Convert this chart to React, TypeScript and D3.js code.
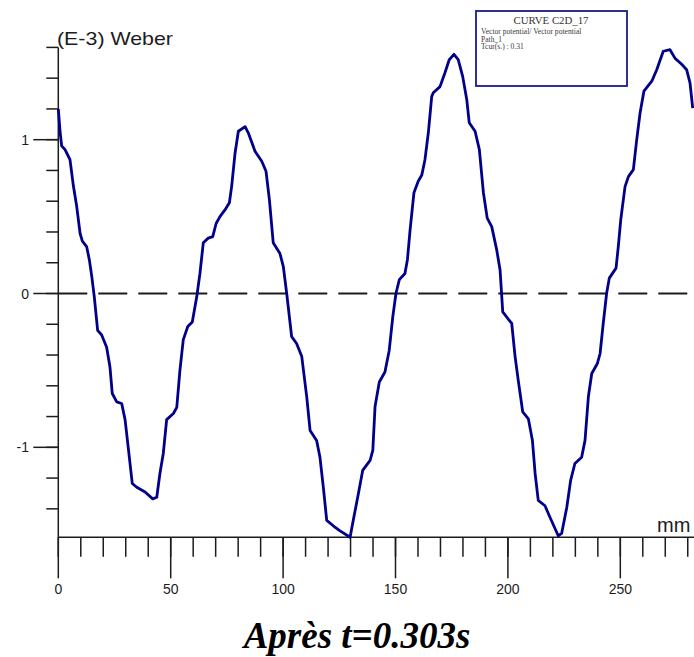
import React from 'react';
import * as d3 from 'd3';

// position along the path (mm) and flux (E-3 Weber)
const positionMm = [
  0, 0.8, 1.5, 3.0, 5.2, 6.7, 8.2, 9.7, 10.7, 12.6, 13.8, 14.9, 16.0, 17.5, 19.3, 21.5, 23.0, 24.0, 26.0,
  28.2, 29.7, 31.1, 32.9, 34.9, 38.6, 42.0, 43.8, 45.2, 46.7, 48.2, 51.2, 52.7, 54.1, 55.6, 57.6, 59.6,
  61.6, 63.0, 64.5, 66.7, 68.7, 70.2, 71.9, 74.2, 76.1, 77.1, 78.6, 80.1, 83.1, 84.5, 87.5, 90.5, 92.4,
  93.9, 95.6, 98.6, 100.1, 101.6, 103.8, 106.0, 108.3, 110.5, 112.0, 114.9, 116.4, 117.9, 119.4, 122.3,
  125.0, 129.8, 131.2, 133.5, 135.4, 138.7, 139.9, 140.9, 142.8, 145.3, 147.2, 148.8, 150.2, 151.7,
  154.2, 155.3, 156.5, 158.2, 160.1, 161.7, 163.1, 164.6, 166.1, 166.8, 169.8, 172.0, 173.9, 176.0,
  177.9, 179.9, 181.7, 182.8, 185.4, 187.3, 189.1, 190.8, 192.8, 195.0, 196.5, 197.7, 200.6, 201.7,
  203.2, 204.6, 206.6, 209.1, 210.9, 212.1, 213.5, 216.5, 218.7, 222.4, 223.9, 226.2, 227.9, 229.8,
  232.8, 234.3, 235.8, 237.3, 239.8, 241.0, 242.4, 243.9, 245.1, 248.1, 249.1, 250.2, 252.1, 253.6,
  255.8, 257.3, 258.8, 260.5, 264.0, 266.2, 269.1, 272.1, 274.3, 277.3, 279.5, 281.0, 282.2,
];
const fluxE3 = [
  1.20, 1.05, 0.96, 0.935, 0.87, 0.70, 0.565, 0.39, 0.34, 0.305, 0.22, 0.11, -0.02, -0.24, -0.27, -0.35,
  -0.48, -0.65, -0.705, -0.715, -0.82, -1.0, -1.235, -1.26, -1.29, -1.335, -1.325, -1.17, -1.04, -0.82,
  -0.78, -0.74, -0.50, -0.30, -0.215, -0.185, -0.02, 0.13, 0.33, 0.36, 0.37, 0.455, 0.50, 0.545, 0.59,
  0.695, 0.91, 1.055, 1.085, 1.045, 0.925, 0.86, 0.795, 0.61, 0.33, 0.26, 0.175, 0.0, -0.28, -0.325,
  -0.41, -0.67, -0.89, -0.955, -1.065, -1.26, -1.475, -1.51, -1.54, -1.585, -1.475, -1.30, -1.15,
  -1.085, -1.02, -0.735, -0.575, -0.51, -0.37, -0.15, 0.0, 0.09, 0.13, 0.22, 0.415, 0.655, 0.73, 0.77,
  0.87, 1.045, 1.28, 1.305, 1.345, 1.435, 1.52, 1.555, 1.52, 1.41, 1.26, 1.11, 1.055, 0.935, 0.655,
  0.49, 0.435, 0.285, 0.155, -0.12, -0.175, -0.195, -0.41, -0.565, -0.77, -0.815, -0.955, -1.17, -1.345,
  -1.38, -1.455, -1.575, -1.56, -1.39, -1.215, -1.105, -1.065, -0.955, -0.67, -0.52, -0.455, -0.39,
  -0.195, 0.0, 0.10, 0.165, 0.305, 0.48, 0.695, 0.76, 0.805, 1.0, 1.175, 1.315, 1.38, 1.455, 1.575,
  1.585, 1.53, 1.49, 1.455, 1.37, 1.205,
];

const xMajorTicks = [0, 50, 100, 150, 200, 250];
const xMinorTicks = d3.range(0, 290, 10);
const yMajorTicks = [-1, 0, 1];
const yMinorTicks = d3.range(-1.4, 1.61, 0.2);

const legendLines = ['Vector potential/ Vector potential', 'Path_1', 'Tcur(s.) : 0.31'];

const W = 694;
const H = 657;
const ink = '#1c1c1c';
const curveColor = '#00008b';
const sans = "Arial, 'Liberation Sans', sans-serif";
const serif = "'Liberation Serif', 'Times New Roman', serif";

export default function App() {
  const x = d3.scaleLinear().domain([0, 283]).range([58.3, 694.5]);
  const y = d3.scaleLinear().domain([-1.585, 1.6]).range([537.3, 47.4]);

  const pts: [number, number][] = positionMm.map((m, i) => [m, fluxE3[i]]);
  const line = d3
    .line<[number, number]>()
    .x((d) => x(d[0]))
    .y((d) => y(d[1]))
    .curve(d3.curveLinear);

  const x0 = x(0);
  const yBase = y(-1.585);

  return (
    <svg
      width={W}
      height={H}
      style={{ position: 'absolute', left: 0, top: 0, background: '#fff' }}
      xmlns="http://www.w3.org/2000/svg"
    >
      <rect x={0} y={0} width={W} height={H} fill="#fff" />

      {/* zero line */}
      <line
        x1={x0}
        x2={W}
        y1={y(0)}
        y2={y(0)}
        stroke={ink}
        strokeWidth={1.8}
        strokeDasharray="29,11"
      />

      {/* y axis */}
      <line x1={x0} x2={x0} y1={y(1.6)} y2={yBase} stroke={ink} strokeWidth={1.5} />
      {yMinorTicks.map((t) => (
        <line key={'ym' + t} x1={x0 - 12} x2={x0} y1={y(t)} y2={y(t)} stroke={ink} strokeWidth={1.5} />
      ))}
      {yMajorTicks.map((t) => (
        <g key={'yM' + t}>
          <line x1={x0 - 25} x2={x0} y1={y(t)} y2={y(t)} stroke={ink} strokeWidth={1.5} />
          <text x={29} y={y(t)} dy="0.36em" textAnchor="end" fontFamily={sans} fontSize={14} fill={ink}>
            {t}
          </text>
        </g>
      ))}

      {/* x axis */}
      <line x1={x0} x2={W} y1={yBase} y2={yBase} stroke={ink} strokeWidth={1.5} />
      {xMinorTicks.map((t) => (
        <line key={'xm' + t} x1={x(t)} x2={x(t)} y1={yBase} y2={yBase + 19.5} stroke={ink} strokeWidth={1.5} />
      ))}
      {xMajorTicks.map((t) => (
        <g key={'xM' + t}>
          <line x1={x(t)} x2={x(t)} y1={yBase} y2={yBase + 41} stroke={ink} strokeWidth={1.5} />
          <text x={x(t)} y={594} textAnchor="middle" fontFamily={sans} fontSize={14} fill={ink}>
            {t}
          </text>
        </g>
      ))}

      {/* curve */}
      <path d={line(pts) ?? ''} fill="none" stroke={curveColor} strokeWidth={2.8} strokeLinejoin="round" />

      {/* axis titles */}
      <text
        x={57}
        y={45}
        fontFamily={sans}
        fontSize={19}
        fill={ink}
        textLength={116}
        lengthAdjust="spacingAndGlyphs"
      >
        (E-3) Weber
      </text>
      <text x={657} y={532} fontFamily={sans} fontSize={20} fill={ink}>
        mm
      </text>

      {/* legend box */}
      <rect x={476} y={11} width={151} height={75} fill="#fff" stroke="#1a1a8c" strokeWidth={1.8} />
      <text x={551} y={24} textAnchor="middle" fontFamily={serif} fontSize={10.8} fill="#333">
        CURVE C2D_17
      </text>
      {legendLines.map((s, i) => (
        <text key={s} x={481} y={34 + i * 7.5} fontFamily={serif} fontSize={7.6} fill="#3a3a3a">
          {s}
        </text>
      ))}

      {/* caption */}
      <text
        x={357}
        y={648}
        textAnchor="middle"
        fontFamily={serif}
        fontSize={37}
        fontWeight="bold"
        fontStyle="italic"
        fill="#000"
      >
        Après t=0.303s
      </text>
    </svg>
  );
}
